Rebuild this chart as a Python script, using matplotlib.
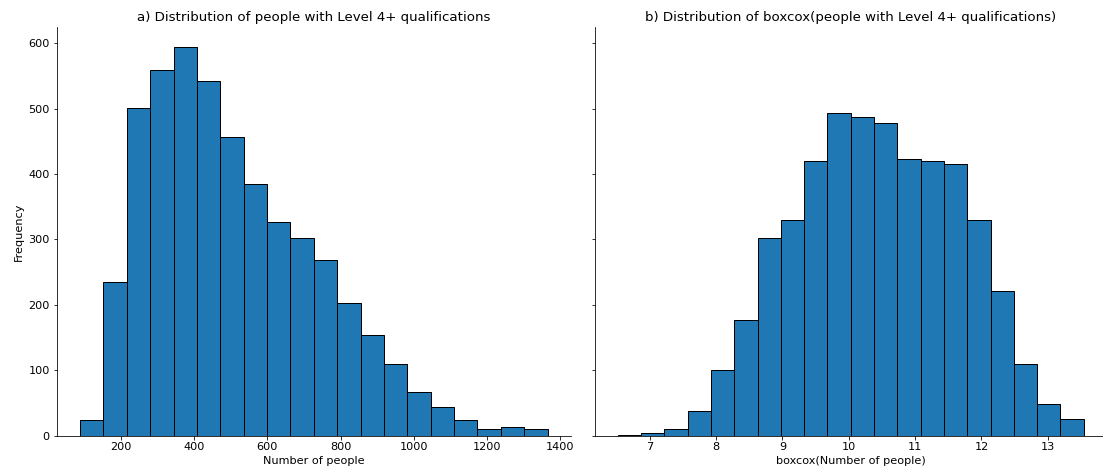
import matplotlib.pyplot as plt
import numpy as np

# counts (20 bins each)
people_counts = [24, 235, 502, 560, 595, 543, 457, 385, 326, 303,
                 269, 203, 154, 109, 67, 43, 24, 10, 13, 10]
people_min, people_max = 88, 1366

boxcox_counts = [1.5, 3.5, 10, 38, 100, 177, 302, 330, 420, 494,
                 488, 479, 423, 420, 415, 330, 221, 110, 48, 26]
boxcox_min, boxcox_max = 6.52, 13.54

people_edges = np.linspace(people_min, people_max, len(people_counts) + 1)
boxcox_edges = np.linspace(boxcox_min, boxcox_max, len(boxcox_counts) + 1)

plt.rcParams['font.size'] = 11.2
plt.rcParams['axes.titlesize'] = 13.4

W, H = 1103, 472
fig = plt.figure(figsize=(W / 72, H / 72), dpi=72)
ax1 = fig.add_axes([56.7 / W, 1 - 435.5 / H, (571 - 56.7) / W, (435.5 - 27.3) / H])
ax2 = fig.add_axes([594.5 / W, 1 - 435.5 / H, (1107 - 594.5) / W, (435.5 - 27.3) / H],
                   sharey=ax1)

ax1.hist(people_edges[:-1], bins=people_edges, weights=people_counts,
         color='#1f77b4', edgecolor='black')
ax1.set_title('a) Distribution of people with Level 4+ qualifications')
ax1.set_xlabel('Number of people')
ax1.set_ylabel('Frequency')

ax2.hist(boxcox_edges[:-1], bins=boxcox_edges, weights=boxcox_counts,
         color='#1f77b4', edgecolor='black')
ax2.set_title('b) Distribution of boxcox(people with Level 4+ qualifications)')
ax2.set_xlabel('boxcox(Number of people)')
ax2.tick_params(labelleft=False)

for ax in (ax1, ax2):
    ax.spines['top'].set_visible(False)
    ax.spines['right'].set_visible(False)

fig.savefig('out.png', dpi=72)
